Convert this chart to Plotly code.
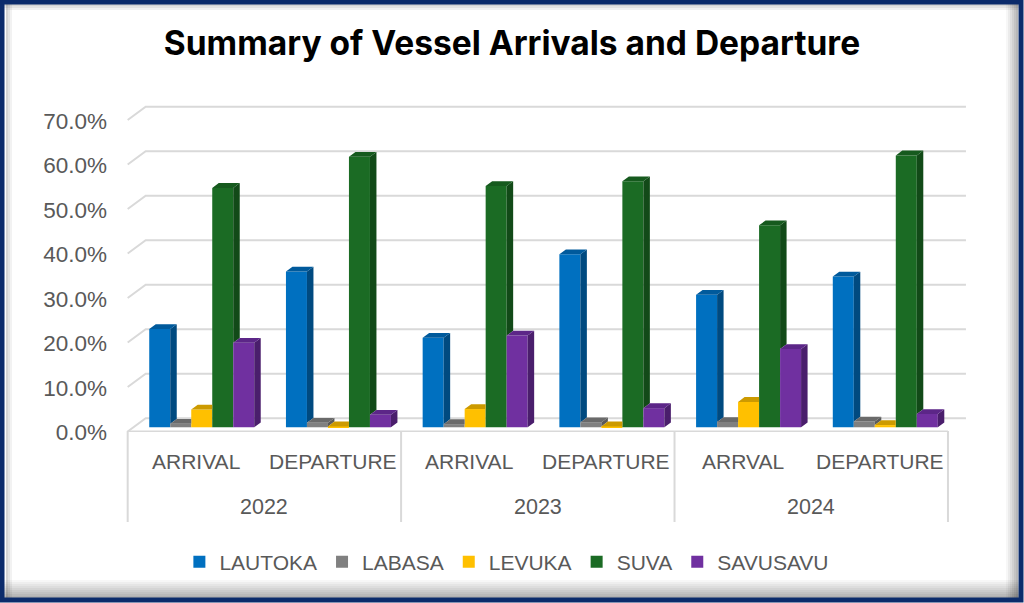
import plotly.graph_objects as go

# ---- data (share of vessel movements per port) ----
years = ["2022", "2023", "2024"]
categories = ["ARRIVAL", "DEPARTURE", "ARRIVAL", "DEPARTURE", "ARRVAL", "DEPARTURE"]
ports = ["LAUTOKA", "LABASA", "LEVUKA", "SUVA", "SAVUSAVU"]

lautoka = [0.221, 0.350, 0.201, 0.389, 0.298, 0.339]
labasa = [0.008, 0.010, 0.007, 0.011, 0.012, 0.013]
levuka = [0.040, 0.002, 0.041, 0.002, 0.057, 0.005]
suva = [0.538, 0.608, 0.542, 0.553, 0.454, 0.611]
savusavu = [0.190, 0.028, 0.206, 0.043, 0.176, 0.030]
series = [lautoka, labasa, levuka, suva, savusavu]

tick_vals = [0.0, 0.1, 0.2, 0.3, 0.4, 0.5, 0.6, 0.7]

front_colors = ["#0070C0", "#808080", "#FFC000", "#1B6B24", "#7030A0"]
top_colors = ["#005A9C", "#6A6A6A", "#CC9A00", "#165A1E", "#5C2688"]
side_colors = ["#004A80", "#5A5A5A", "#B08500", "#124A18", "#4A1E6C"]

TEXT = "#595959"
GRID = "#D9D9D9"
NAVY = "#0B2B6B"
FONT = "Liberation Sans, Arial, sans-serif"

# ---- geometry ----
W, H = 1024, 603
L, R, T, B = 126, 56, 100, 171
plot_w = W - L - R
plot_h = H - T - B
x_range = [-0.554, 5.605]
y_range = [-0.0106, 0.7355]
px_x = plot_w / (x_range[1] - x_range[0])
px_y = plot_h / (y_range[1] - y_range[0])

# depth offsets in pixels (right, up) relative to the bar front plane
front_dx, front_dy = -5.7 / px_x, -4.2 / px_y
back_dx, back_dy = 12.3 / px_x, 9.1 / px_y
bar_dx, bar_dy = 6.5 / px_x, 4.8 / px_y
bw = 0.1536


def pxx(p):
    return (p - L) / plot_w


def pxy(p):
    return (T + plot_h - p) / plot_h


fig = go.Figure()

# front faces
for j, vals in enumerate(series):
    xs = [i + (j - 2) * bw for i in range(len(categories))]
    fig.add_trace(go.Bar(
        x=xs, y=vals, width=bw, name=ports[j],
        marker=dict(color=front_colors[j], line=dict(width=0)),
        customdata=[f"{years[i // 2]} {c}" for i, c in enumerate(categories)],
        hovertemplate="%{customdata}<br>" + ports[j] + ": %{y:.1%}<extra></extra>",
    ))

# side and top faces (only the visible parts)
for j, vals in enumerate(series):
    sx, sy, tx, ty = [], [], [], []
    for i, v in enumerate(vals):
        xl = i + (j - 2) * bw - bw / 2
        xr = xl + bw
        nxt = series[j + 1][i] if j < len(series) - 1 else 0.0
        if nxt < v:
            sx += [xr, xr + bar_dx, xr + bar_dx, xr, xr, None]
            sy += [nxt, nxt + bar_dy, v + bar_dy, v, nxt, None]
            tx += [xl, xl + bar_dx, xr + bar_dx, xr, xl, None]
        else:
            tx += [xl, xl + bar_dx, xr, xr, xl, None]
        ty += [v, v + bar_dy, v + bar_dy, v, v, None]
    fig.add_trace(go.Scatter(x=sx, y=sy, mode="lines", fill="toself", fillcolor=side_colors[j],
                             line=dict(width=0, color=side_colors[j]), hoverinfo="skip", showlegend=False))
    fig.add_trace(go.Scatter(x=tx, y=ty, mode="lines", fill="toself", fillcolor=top_colors[j],
                             line=dict(width=0, color=top_colors[j]), hoverinfo="skip", showlegend=False))

shapes = []
# back wall gridlines with slanted side wall part
for v in tick_vals:
    shapes.append(dict(
        type="path", xref="x", yref="y", layer="below",
        path=f"M {-0.5 + front_dx},{v + front_dy} L {-0.5 + back_dx},{v + back_dy} L {5.5 + back_dx},{v + back_dy}",
        line=dict(color=GRID, width=2),
    ))
# front edge of floor
shapes.append(dict(type="line", xref="x", yref="y", layer="below",
                   x0=-0.5 + front_dx, x1=5.5 + front_dx, y0=front_dy, y1=front_dy,
                   line=dict(color=GRID, width=2)))
# category dividers
for k in range(len(years) + 1):
    xd = -0.5 + front_dx + 2 * k
    shapes.append(dict(type="line", xref="x", yref="paper", x0=xd, x1=xd,
                       y0=pxy(431), y1=pxy(522), line=dict(color=GRID, width=2)))

# frame: navy border with soft inner shadow
for s in range(9):
    a = 0.03 + 0.035 * s
    shapes.append(dict(type="rect", xref="paper", yref="paper", layer="above",
                       x0=pxx(4), x1=pxx(1019), y0=pxy(580 + 2 * s), y1=pxy(582 + 2 * s),
                       fillcolor=f"rgba(0,0,0,{a:.3f})", line=dict(width=0)))
for s in range(6):
    a = 0.03 + 0.05 * s
    shapes.append(dict(type="rect", xref="paper", yref="paper", layer="above",
                       x0=pxx(1006 + 2 * s), x1=pxx(1008 + 2 * s), y0=pxy(4), y1=pxy(598),
                       fillcolor=f"rgba(0,0,0,{a:.3f})", line=dict(width=0)))
for s in range(3):
    a = 0.05 + 0.06 * s
    shapes.append(dict(type="rect", xref="paper", yref="paper", layer="above",
                       x0=pxx(4), x1=pxx(1019), y0=pxy(10 - 2 * s), y1=pxy(8 - 2 * s),
                       fillcolor=f"rgba(0,0,0,{a:.3f})", line=dict(width=0)))
    shapes.append(dict(type="rect", xref="paper", yref="paper", layer="above",
                       x0=pxx(10 - 2 * s), x1=pxx(12 - 2 * s), y0=pxy(4), y1=pxy(598),
                       fillcolor=f"rgba(0,0,0,{a:.3f})", line=dict(width=0)))
shapes.append(dict(type="rect", xref="paper", yref="paper", layer="above",
                   x0=pxx(2), x1=pxx(1021), y0=pxy(2), y1=pxy(600),
                   line=dict(color=NAVY, width=5)))

annotations = []
for i, c in enumerate(categories):
    annotations.append(dict(x=i + front_dx, y=pxy(461), xref="x", yref="paper", text=c,
                            showarrow=False, yanchor="middle", font=dict(family=FONT, size=21, color=TEXT)))
for k, yr in enumerate(years):
    annotations.append(dict(x=2 * k + 0.5 + front_dx, y=pxy(507), xref="x", yref="paper", text=yr,
                            showarrow=False, yanchor="middle", font=dict(family=FONT, size=21.5, color=TEXT)))

fig.update_layout(
    width=W, height=H,
    margin=dict(l=L, r=R, t=T, b=B),
    paper_bgcolor="white", plot_bgcolor="rgba(0,0,0,0)",
    barmode="overlay",
    title=dict(text="<b>Summary of Vessel Arrivals and Departure</b>", x=0.5, xref="container",
               y=1 - 43 / H, yref="container", yanchor="middle", xanchor="center",
               font=dict(family="Inter, " + FONT, size=33.5, color="black")),
    xaxis=dict(range=x_range, showticklabels=False, showgrid=False, zeroline=False, showline=False,
               fixedrange=True),
    yaxis=dict(range=y_range, tickvals=tick_vals, tickformat=".1%", showgrid=False, zeroline=False,
               showline=False, ticklabelstandoff=18, ticklabelshift=5,
               tickfont=dict(family=FONT, size=22.5, color=TEXT), fixedrange=True),
    legend=dict(orientation="h", xref="container", yref="container", x=0.495, y=1 - 562 / H,
                xanchor="center", yanchor="middle", font=dict(family=FONT, size=21, color=TEXT),
                bgcolor="rgba(0,0,0,0)"),
    shapes=shapes,
    annotations=annotations,
)

fig.write_html("out.html", config={"displayModeBar": False},
               post_script="document.body.style.margin='0';")
